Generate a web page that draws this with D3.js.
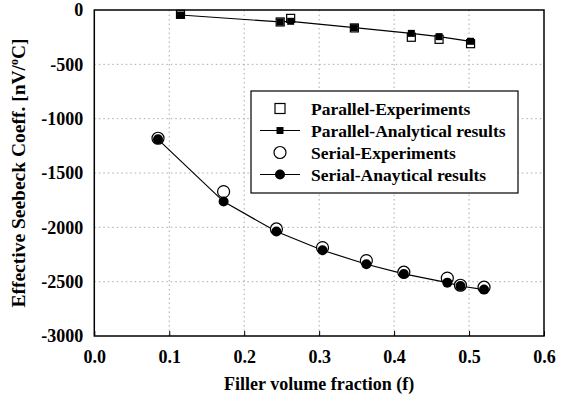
<!DOCTYPE html>
<html><head><meta charset="utf-8">
<script src="https://cdn.jsdelivr.net/npm/d3@7"></script>
<style>
body{margin:0;background:#fff;}
svg text{font-family:"Liberation Serif","Times New Roman",serif;font-weight:bold;fill:#000;}
</style></head>
<body><svg id="c" width="567" height="401"></svg>
<script>
// ---- data ----
const xTicks = [0.0, 0.1, 0.2, 0.3, 0.4, 0.5, 0.6];
const yTicks = [0, -500, -1000, -1500, -2000, -2500, -3000];
const parallelF = [0.115, 0.248, 0.262, 0.347, 0.423, 0.46, 0.502];
const parallelExp = [-40, -110, -77, -165, -251, -270, -310];
const parallelAna = [-46, -110, -104, -163, -215, -245, -288];
const serialF = [0.085, 0.1725, 0.243, 0.3045, 0.363, 0.413, 0.471, 0.4885, 0.52];
const serialExp = [-1180, -1672, -2015, -2187, -2306, -2413, -2468, -2533, -2551];
const serialAna = [-1190, -1763, -2039, -2211, -2340, -2429, -2509, -2540, -2573];
const legendLabels = ["Parallel-Experiments", "Parallel-Analytical results", "Serial-Experiments", "Serial-Anaytical results"];

const svg = d3.select("#c");
const L = 94.3, R = 544, T = 10, B = 336;
const x = d3.scaleLinear().domain([0, 0.6]).range([L, R]);
const y = d3.scaleLinear().domain([-3000, 0]).range([B, T]);

// grid
const g = svg.append("g");
g.selectAll("line.vx").data(xTicks.slice(1, -1)).join("line")
  .attr("x1", d => x(d)).attr("x2", d => x(d)).attr("y1", T).attr("y2", B)
  .attr("stroke", "#aaa").attr("stroke-width", 1).attr("stroke-dasharray", "1.5,3");
g.selectAll("line.hy").data(yTicks.slice(1, -1)).join("line")
  .attr("y1", d => y(d)).attr("y2", d => y(d)).attr("x1", L).attr("x2", R)
  .attr("stroke", "#aaa").attr("stroke-width", 1).attr("stroke-dasharray", "1.5,3");

// axes
const xAxis = svg.append("g").attr("transform", `translate(0,${B})`)
  .call(d3.axisBottom(x).tickValues(xTicks).tickFormat(d3.format(".1f")).tickSizeInner(-5).tickSizeOuter(0).tickPadding(14));
const yAxis = svg.append("g").attr("transform", `translate(${L},0)`)
  .call(d3.axisLeft(y).tickValues(yTicks).tickFormat(d => d).tickSize(0).tickPadding(11));
[xAxis, yAxis].forEach(a => {
  a.select(".domain").remove();
  a.selectAll("text").style("font-size", "18px").style("font-family", "Liberation Serif").style("font-weight", "bold");
  a.selectAll("line").attr("stroke", "#000");
});
xAxis.selectAll("text").attr("dy", "0.71em");

// frame
svg.append("rect").attr("x", L).attr("y", T).attr("width", R - L).attr("height", B - T)
  .attr("fill", "none").attr("stroke", "#000").attr("stroke-width", 1.5);

// titles
svg.append("text").attr("x", (L + R) / 2).attr("y", 390).attr("text-anchor", "middle")
  .style("font-size", "18px").text("Filler volume fraction (f)");
const yt = svg.append("text").attr("transform", `translate(25,${(T + B) / 2}) rotate(-90)`)
  .attr("text-anchor", "middle").style("font-size", "19.5px");
yt.append("tspan").text("Effective Seebeck Coeff. [nV/");
yt.append("tspan").attr("dy", -7).style("font-size", "12px").text("o");
yt.append("tspan").attr("dy", 7).text("C]");

// lines
const line = d3.line().x(d => x(d[0])).y(d => y(d[1]));
const pAna = parallelF.map((f, i) => [f, parallelAna[i]]);
const pExp = parallelF.map((f, i) => [f, parallelExp[i]]);
const sAna = serialF.map((f, i) => [f, serialAna[i]]);
const sExp = serialF.map((f, i) => [f, serialExp[i]]);

svg.append("path").datum(pAna).attr("d", line).attr("fill", "none").attr("stroke", "#000").attr("stroke-width", 1.2);
svg.append("path").datum(sAna).attr("d", line).attr("fill", "none").attr("stroke", "#000").attr("stroke-width", 1.2);

const sq = 8;
svg.append("g").selectAll("rect").data(pExp).join("rect")
  .attr("x", d => x(d[0]) - sq / 2).attr("y", d => y(d[1]) - sq / 2).attr("width", sq).attr("height", sq)
  .attr("fill", "#fff").attr("stroke", "#000").attr("stroke-width", 1.2);
svg.append("g").selectAll("circle").data(sExp).join("circle")
  .attr("cx", d => x(d[0])).attr("cy", d => y(d[1])).attr("r", 6)
  .attr("fill", "#fff").attr("stroke", "#000").attr("stroke-width", 1.2);
svg.append("g").selectAll("rect").data(pAna).join("rect")
  .attr("x", d => x(d[0]) - 3.5).attr("y", d => y(d[1]) - 3.5).attr("width", 7).attr("height", 7)
  .attr("fill", "#000");
svg.append("g").selectAll("circle").data(sAna).join("circle")
  .attr("cx", d => x(d[0])).attr("cy", d => y(d[1])).attr("r", 5)
  .attr("fill", "#000");

// legend
const lg = svg.append("g");
lg.append("rect").attr("x", 251).attr("y", 91).attr("width", 267).attr("height", 102)
  .attr("fill", "#fff").attr("stroke", "#000").attr("stroke-width", 1.2);
const rows = [108.5, 130.5, 152.5, 174.5];
const mx = 280;
lg.append("rect").attr("x", mx - 5).attr("y", rows[0] - 5).attr("width", 10).attr("height", 10)
  .attr("fill", "#fff").attr("stroke", "#000").attr("stroke-width", 1.2);
lg.append("line").attr("x1", 260).attr("x2", 300).attr("y1", rows[1]).attr("y2", rows[1]).attr("stroke", "#000").attr("stroke-width", 1.2);
lg.append("rect").attr("x", mx - 3.5).attr("y", rows[1] - 3.5).attr("width", 7).attr("height", 7).attr("fill", "#000");
lg.append("circle").attr("cx", mx).attr("cy", rows[2]).attr("r", 6).attr("fill", "#fff").attr("stroke", "#000").attr("stroke-width", 1.2);
lg.append("line").attr("x1", 260).attr("x2", 300).attr("y1", rows[3]).attr("y2", rows[3]).attr("stroke", "#000").attr("stroke-width", 1.2);
lg.append("circle").attr("cx", mx).attr("cy", rows[3]).attr("r", 5).attr("fill", "#000");
lg.selectAll("text").data(legendLabels).join("text")
  .attr("x", 311).attr("y", (d, i) => rows[i]).attr("dy", "0.35em")
  .style("font-size", "17.5px").text(d => d);
</script></body></html>
